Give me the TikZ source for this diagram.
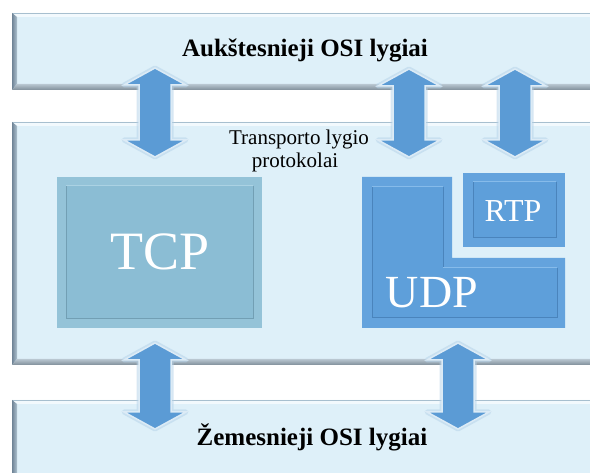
\documentclass[tikz,border=0pt]{standalone}
\usepackage{fontspec}
\setmainfont{Liberation Serif}
\definecolor{bandfill}{HTML}{DEF0F9}
\definecolor{bandtop}{HTML}{A7BFCF}
\definecolor{bandleftA}{HTML}{6F8496}
\definecolor{bandleftB}{HTML}{AFC2D0}
\definecolor{bandbotA}{HTML}{B9C7D1}
\definecolor{bandbotB}{HTML}{7F8E99}
\definecolor{arrowblue}{HTML}{5B9BD5}
\definecolor{arrowedge}{HTML}{DCEBF6}
\definecolor{glow}{HTML}{B7D4EA}
\definecolor{tcpframe}{HTML}{94C3D8}
\definecolor{tcpface}{HTML}{8BBDD4}
\definecolor{tcpdark}{HTML}{729FB4}
\definecolor{tcplight}{HTML}{ABD2E3}
\definecolor{udpframe}{HTML}{64A3DD}
\definecolor{udpface}{HTML}{5E9FDA}
\definecolor{udpdark}{HTML}{4A84BC}
\definecolor{udplight}{HTML}{86BBEA}
\tikzset{
  arrowstyle/.style={fill=arrowblue, draw=arrowedge, line width=1.5pt, line join=miter,
    preaction={draw=glow, line width=5pt, opacity=.55, line join=round}},
  bandtext/.style={font=\fontsize{25}{28}\selectfont\bfseries, text=black, anchor=base, inner sep=0pt},
  smalltext/.style={font=\fontsize{21}{22}\selectfont, text=black, anchor=base, inner sep=0pt},
  boxtext/.style={text=white, inner sep=0pt},
}
\newcommand\blockarrow[3]{%
  \path[arrowstyle] (#1,#2) -- (#1+31,#2+17) -- (#1+16,#2+17) -- (#1+16,#3-17)
    -- (#1+31,#3-17) -- (#1,#3) -- (#1-31,#3-17) -- (#1-16,#3-17) -- (#1-16,#2+17)
    -- (#1-31,#2+17) -- cycle;}
% band: x1 y1 x2 y2
\newcommand\bandbox[4]{%
  \fill[bandfill] (#1,#2) rectangle (#3,#4);
  \fill[white!60!bandfill] (#1,#2) -- (#3,#2) -- (#3,#2+4) -- (#1+5,#2+4) -- cycle;
  \draw[bandtop, line width=1pt] (#1,#2+0.5) -- (#3,#2+0.5);
  \shade[left color=bandleftA, right color=bandleftB] (#1,#2) -- (#1+5,#2+4) -- (#1+5,#4-6) -- (#1,#4) -- cycle;
  \shade[top color=bandbotA, bottom color=bandbotB] (#1,#4) -- (#1+5,#4-6) -- (#3,#4-6) -- (#3,#4) -- cycle;}
\begin{document}
\begin{tikzpicture}[x=1pt,y=-1pt]
\useasboundingbox (0,0) rectangle (590,473);
\fill[white] (0,0) rectangle (590,473);

% bands
\bandbox{12}{13}{595}{90}
\bandbox{12}{122}{595}{365}
\fill[bandfill] (12,400) rectangle (595,480);
\fill[white!60!bandfill] (12,400) -- (595,400) -- (595,404) -- (17,404) -- cycle;
\draw[bandtop, line width=1pt] (12,400.5) -- (595,400.5);
\shade[left color=bandleftA, right color=bandleftB] (12,400) -- (17,404) -- (17,480) -- (12,480) -- cycle;

% TCP box
\fill[tcpframe] (57,177) rectangle (262,328);
\fill[tcpface] (66,186) rectangle (253,319);
\draw[tcpdark, line width=1pt] (66,186) -- (66,319) -- (253,319) -- (253,186);
\draw[tcplight, line width=1pt] (66,186) -- (253,186);
\node[boxtext, font=\fontsize{54}{54}\selectfont] (tcp) at (160,252) {TCP};

% UDP L-shape
\fill[udpframe] (362,177) -- (452,177) -- (452,258) -- (565,258) -- (565,328) -- (362,328) -- cycle;
\fill[udpface] (372,187) -- (443,187) -- (443,268) -- (557,268) -- (557,318) -- (372,318) -- cycle;
\draw[udpdark, line width=1pt] (372,187) -- (372,318) -- (557,318) -- (557,268);
\draw[udpdark, line width=1pt] (443,187) -- (443,268);
\draw[udplight, line width=1pt] (372,187) -- (443,187);
\draw[udplight, line width=1pt] (443,268) -- (557,268);
\node[boxtext, font=\fontsize{46}{46}\selectfont] (udp) at (432,293) {UDP};

% RTP box
\fill[udpframe] (463,173) rectangle (565,247);
\fill[udpface] (473,182) rectangle (556,238);
\draw[udpdark, line width=1pt] (473,182) -- (473,238) -- (556,238) -- (556,182);
\draw[udplight, line width=1pt] (473,182) -- (556,182);
\node[boxtext, font=\fontsize{32}{32}\selectfont] (rtp) at (513,211) {RTP};

% arrows
\blockarrow{155}{68}{157}
\blockarrow{409}{69}{157}
\blockarrow{515}{69}{157}
\blockarrow{155}{343}{429}
\blockarrow{458}{343}{429}

% texts
\node[bandtext] (upper) at (305,57) {Aukštesnieji OSI lygiai};
\node[bandtext] (lower) at (312,446) {Žemesnieji OSI lygiai};
\node[smalltext] (tr1) at (299,145) {Transporto lygio};
\node[smalltext] (tr2) at (295,168) {protokolai};
\end{tikzpicture}
\end{document}
